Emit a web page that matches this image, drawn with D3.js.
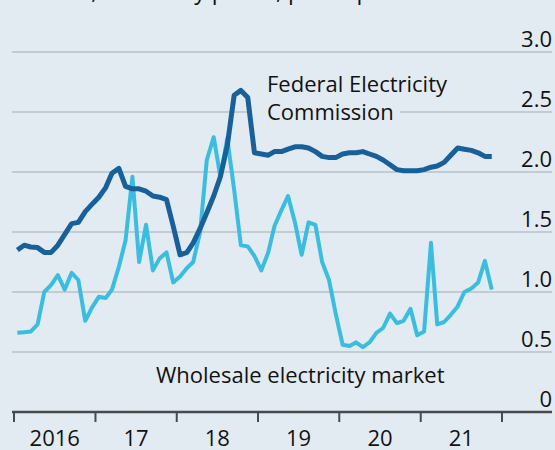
<!DOCTYPE html>
<html>
<head>
<meta charset="utf-8">
<script src="https://cdn.jsdelivr.net/npm/d3@7"></script>
<style>
  body { margin: 0; background: #e2ebf1; }
  svg { display: block; font-family: "Open Sans", sans-serif; }
</style>
</head>
<body>
<script>
// monthly series, Jan 2016 .. Nov 2021, pesos per kWh
let startYear = 2016;
let cfe = [1.35,1.39,1.375,1.37,1.33,1.33,1.39,1.48,1.57,1.58,
  1.67,1.73,1.79,1.87,1.99,2.03,1.88,1.86,1.86,1.84,
  1.80,1.79,1.77,1.55,1.31,1.33,1.41,1.53,1.66,1.80,
  1.96,2.22,2.64,2.68,2.62,2.16,2.15,2.14,2.17,2.17,
  2.19,2.21,2.21,2.20,2.17,2.13,2.12,2.12,2.15,2.16,
  2.16,2.17,2.15,2.13,2.10,2.06,2.02,2.01,2.01,2.01,
  2.02,2.04,2.05,2.08,2.14,2.20,2.19,2.18,2.16,2.13,2.13];
let wholesale = [0.66,0.665,0.67,0.73,1.0,1.06,1.14,1.02,1.16,1.1,
  0.76,0.87,0.96,0.95,1.02,1.21,1.43,1.96,1.25,1.56,
  1.18,1.28,1.33,1.08,1.13,1.2,1.25,1.5,2.1,2.29,
  1.96,2.28,1.85,1.39,1.38,1.3,1.18,1.33,1.55,1.68,
  1.8,1.58,1.31,1.58,1.56,1.25,1.1,0.82,0.56,0.55,
  0.58,0.54,0.58,0.66,0.7,0.82,0.74,0.76,0.86,0.64,
  0.67,1.41,0.73,0.75,0.81,0.88,1.0,1.03,1.08,1.26,1.02];
let yearTicks = [2016, 2017, 2018, 2019, 2020, 2021, 2022];
let yearLabels = ["2016", "17", "18", "19", "20", "21"];
let yTicks = [0, 0.5, 1, 1.5, 2, 2.5, 3];
let title = "Mexico, electricity prices, pesos per kWh";

let width = 555, height = 450;
let bg = "#e2ebf1";

let dates = cfe.map((d, i) => new Date(startYear, i, 16));

let x = d3.scaleTime()
    .domain([new Date(2016, 0, 1), new Date(2022, 0, 1)])
    .range([14, 502]);

let y = d3.scaleLinear()
    .domain([0, 3])
    .range([412, 52]);

let svg = d3.select("body").append("svg")
    .attr("width", width)
    .attr("height", height);

svg.append("rect")
    .attr("width", width)
    .attr("height", height)
    .attr("fill", bg);

// title sits mostly above the frame, only descenders show (as in the source crop)
svg.append("text")
    .attr("x", 15)
    .attr("y", -1)
    .attr("font-size", 23)
    .attr("fill", "#121212")
    .text(title);

// gridlines
svg.append("g")
    .selectAll("line")
    .data(yTicks.filter(d => d > 0))
    .join("line")
    .attr("x1", 12)
    .attr("x2", 552)
    .attr("y1", d => y(d))
    .attr("y2", d => y(d))
    .attr("stroke", "#c3ccd3")
    .attr("stroke-width", 2);

// y tick labels, right side above the line
svg.append("g")
    .selectAll("text")
    .data(yTicks)
    .join("text")
    .attr("x", 552)
    .attr("y", d => y(d) - 5)
    .attr("text-anchor", "end")
    .attr("font-size", 22)
    .attr("fill", "#121212")
    .text(d => d === 0 ? "0" : d.toFixed(1));

// patch behind the Commission label
svg.append("rect")
    .attr("x", 252)
    .attr("y", 100)
    .attr("width", 148)
    .attr("height", 24)
    .attr("fill", bg);

let line = d3.line()
    .x((d, i) => x(dates[i]))
    .y(d => y(d))
    .curve(d3.curveLinear);

svg.append("path")
    .datum(wholesale)
    .attr("d", line)
    .attr("fill", "none")
    .attr("stroke", "#3bbde0")
    .attr("stroke-width", 4)
    .attr("stroke-linejoin", "round");

svg.append("path")
    .datum(cfe)
    .attr("d", line)
    .attr("fill", "none")
    .attr("stroke", "#18609a")
    .attr("stroke-width", 5)
    .attr("stroke-linejoin", "round");

// x axis
svg.append("line")
    .attr("x1", 12)
    .attr("x2", 552)
    .attr("y1", 412)
    .attr("y2", 412)
    .attr("stroke", "#4a4a4a")
    .attr("stroke-width", 2.5);

svg.append("g")
    .selectAll("line")
    .data(yearTicks)
    .join("line")
    .attr("x1", d => x(new Date(d, 0, 1)))
    .attr("x2", d => x(new Date(d, 0, 1)))
    .attr("y1", 412)
    .attr("y2", 422)
    .attr("stroke", "#4a4a4a")
    .attr("stroke-width", 2);

svg.append("g")
    .selectAll("text")
    .data(yearLabels)
    .join("text")
    .attr("x", (d, i) => (x(new Date(yearTicks[i], 0, 1)) + x(new Date(yearTicks[i + 1], 0, 1))) / 2)
    .attr("y", 446)
    .attr("text-anchor", "middle")
    .attr("font-size", 22)
    .attr("fill", "#121212")
    .text(d => d);

// series labels
let fed = svg.append("text")
    .attr("font-size", 22)
    .attr("fill", "#121212");
fed.append("tspan").attr("x", 267).attr("y", 92).text("Federal Electricity");
fed.append("tspan").attr("x", 267).attr("y", 120).text("Commission");

svg.append("text")
    .attr("x", 156)
    .attr("y", 383)
    .attr("font-size", 22)
    .attr("fill", "#121212")
    .text("Wholesale electricity market");
</script>
</body>
</html>
